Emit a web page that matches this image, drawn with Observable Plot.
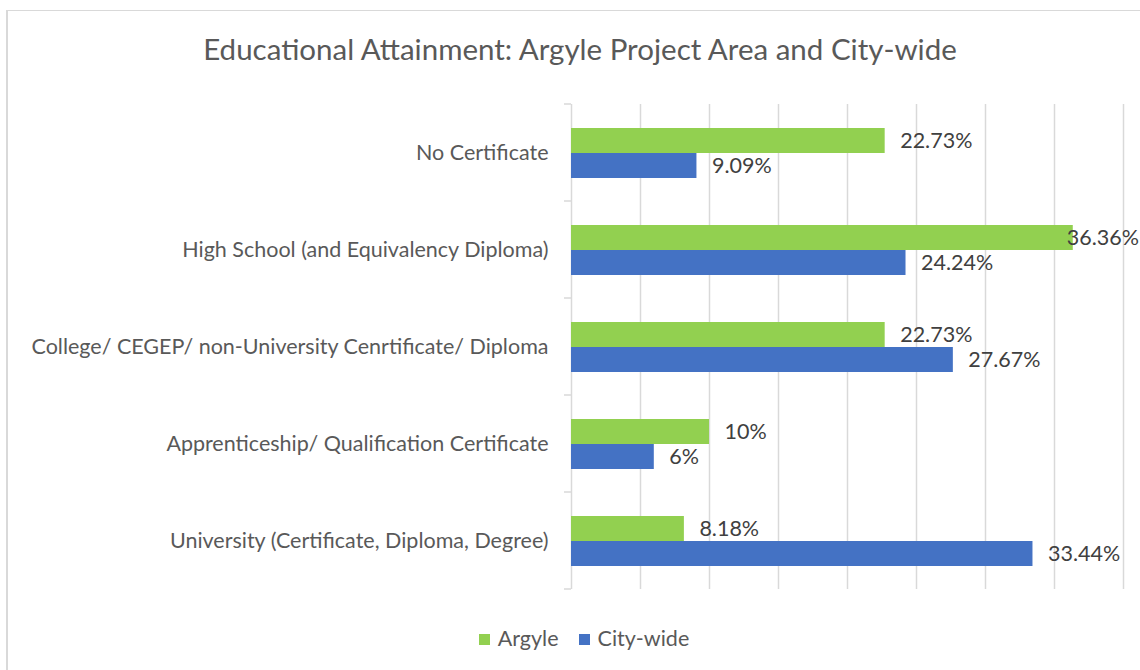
<!DOCTYPE html>
<html>
<head>
<meta charset="utf-8">
<script src="https://cdn.jsdelivr.net/npm/d3@7"></script>
<script src="https://cdn.jsdelivr.net/npm/@observablehq/plot@0.6"></script>
<style>
  html, body { margin: 0; padding: 0; background: #fff; overflow: hidden; }
  body { width: 1140px; height: 670px; position: relative; font-family: Lato, "Open Sans", sans-serif; color: #595959; }
  #frame { position: absolute; left: 6px; top: 10px; width: 1200px; height: 700px; border-left: 2px solid #d9d9d9; border-top: 1px solid #d9d9d9; box-sizing: border-box; }
  #title { position: absolute; left: 0; width: 1160px; top: 31px; text-align: center; font-size: 29.5px; line-height: 36px; color: #595959; }
  #chart { position: absolute; left: 0; top: 92px; }
  #legend { position: absolute; left: 0; width: 1168px; top: 624px; text-align: center; font-size: 21.5px; line-height: 28px; color: #595959; }
  #legend span.item { display: inline-block; margin: 0 10px; }
  #legend span.sw { display: inline-block; width: 11px; height: 11px; margin-right: 8px; vertical-align: 1px; }
</style>
</head>
<body>
<div id="frame"></div>
<div id="title">Educational Attainment: Argyle Project Area and City-wide</div>
<div id="chart"></div>
<div id="legend"></div>
<script>
const categories = [
  "No Certificate",
  "High School (and Equivalency Diploma)",
  "College/ CEGEP/ non-University Cenrtificate/ Diploma",
  "Apprenticeship/ Qualification Certificate",
  "University (Certificate, Diploma, Degree)"
];
const seriesNames = ["Argyle", "City-wide"];
const argyle = [22.73, 36.36, 22.73, 10, 8.18];
const cityWide = [9.09, 24.24, 27.67, 6, 33.44];
const colors = ["#92D050", "#4472C4"];
const xTicks = [0, 5, 10, 15, 20, 25, 30, 35, 40];

const data = [];
categories.forEach((c, i) => {
  data.push({category: c, series: seriesNames[0], value: argyle[i]});
  data.push({category: c, series: seriesNames[1], value: cityWide[i]});
});

const W = 1140, H = 506;
const plot = Plot.plot({
  width: W,
  height: H,
  marginTop: 10,
  marginBottom: 8,
  marginLeft: 571,
  marginRight: 17,
  style: {fontFamily: "Lato, 'Open Sans', sans-serif", color: "#595959", background: "transparent"},
  x: {domain: [0, 40], axis: null},
  y: {domain: seriesNames, paddingInner: 0, paddingOuter: 0.906, axis: null},
  fy: {domain: categories, padding: 0, label: null},
  color: {domain: seriesNames, range: colors},
  marks: [
    Plot.gridX(xTicks, {stroke: "#d9d9d9", strokeOpacity: 1, strokeWidth: 1.5}),
    Plot.axisFy({anchor: "left", tickSize: 0, tickPadding: 23, fontSize: 21.5, fill: "#595959", label: null}),
    Plot.barX(data, {fy: "category", y: "series", x: "value", fill: "series"}),
    Plot.text(data, {fy: "category", y: "series", x: "value", text: d => `${d.value}%`, textAnchor: "start", dx: 15, fontSize: 21.5, fill: "#404040"})
  ]
});
document.getElementById("chart").appendChild(plot);

// boundary ticks on the category axis, from the library's fy scale
const fy = plot.scale("fy");
const svg = d3.select(plot);
const g = svg.append("g").attr("stroke", "#d9d9d9").attr("stroke-width", 1.5);
const xs = plot.scale("x");
const x0 = xs.apply(0);
for (let i = 0; i <= categories.length; i++) {
  const y = i < categories.length ? fy.apply(categories[i]) : fy.apply(categories[categories.length - 1]) + fy.bandwidth;
  g.append("line").attr("x1", x0 - 7).attr("x2", x0).attr("y1", y).attr("y2", y);
}

// keep value labels inside the chart area (shift left if overflowing)
svg.selectAll("text").each(function() {
  const t = this;
  if (!t.textContent.endsWith("%")) return;
  const b = t.getBBox();
  const ctm = t.getCTM();
  const right = ctm.e + (b.x + b.width) * ctm.a;
  if (right > W - 1) {
    const cur = t.getAttribute("transform") || "";
    t.setAttribute("transform", cur + ` translate(${W - 1 - right},0)`);
  }
});

// legend
const legend = document.getElementById("legend");
seriesNames.forEach((s, i) => {
  const item = document.createElement("span");
  item.className = "item";
  const sw = document.createElement("span");
  sw.className = "sw";
  sw.style.background = colors[i];
  item.appendChild(sw);
  item.appendChild(document.createTextNode(s));
  legend.appendChild(item);
});
</script>
</body>
</html>
